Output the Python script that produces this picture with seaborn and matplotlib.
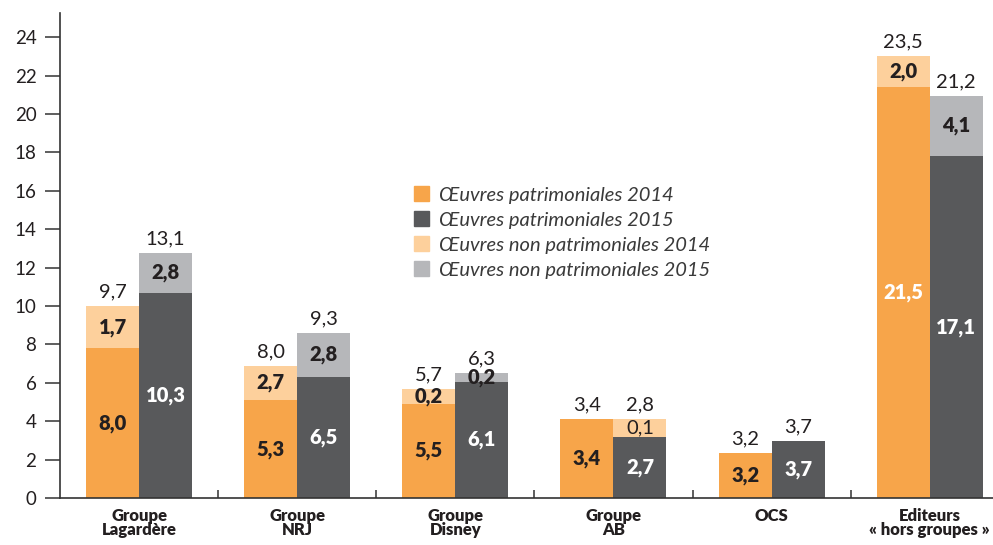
import pandas as pd
import matplotlib.pyplot as plt
import seaborn as sns
from matplotlib.patches import Patch

# Data (bar heights as drawn in the picture, labels as printed)
groups = ["Groupe\nLagardère", "Groupe\nNRJ", "Groupe\nDisney", "Groupe\nAB", "OCS",
          "Editeurs\n« hors groupes »"]
pat_2014 = [7.8, 5.1, 4.9, 4.1, 2.35, 21.4]
total_2014 = [10.0, 6.9, 5.7, 4.1, 2.35, 23.0]
pat_2015 = [10.7, 6.3, 6.05, 3.2, 2.95, 17.8]
total_2015 = [12.75, 8.6, 6.5, 4.1, 2.95, 20.95]

lab_pat_2014 = ["8,0", "5,3", "5,5", "3,4", "3,2", "21,5"]
lab_non_2014 = ["1,7", "2,7", "0,2", "", "", "2,0"]
lab_tot_2014 = ["9,7", "8,0", "5,7", "3,4", "3,2", "23,5"]
lab_pat_2015 = ["10,3", "6,5", "6,1", "2,7", "3,7", "17,1"]
lab_non_2015 = ["2,8", "2,8", "0,2", "0,1", "", "4,1"]
lab_tot_2015 = ["13,1", "9,3", "6,3", "2,8", "3,7", "21,2"]

legend_labels = ["Œuvres patrimoniales 2014", "Œuvres patrimoniales 2015",
                 "Œuvres non patrimoniales 2014", "Œuvres non patrimoniales 2015"]

ORANGE = "#F7A54A"
DARK = "#58595B"
LIGHT_ORANGE = "#FDD09C"
LIGHT_GRAY = "#B6B7BA"
TEXT = "#231F20"

sns.set_style("white")
plt.rcParams["font.family"] = ["Lato", "DejaVu Sans"]

df = pd.DataFrame({
    "group": groups * 2,
    "year": ["2014"] * 6 + ["2015"] * 6,
    "pat": pat_2014 + pat_2015,
    "total": total_2014 + total_2015,
})

fig = plt.figure(figsize=(9.93, 5.45), dpi=100)
ax = fig.add_axes([60 / 993, 47 / 545, 933 / 993, 485 / 545])

# totals (light colours) first, then patrimoniales on top
sns.barplot(data=df, x="group", y="total", hue="year", palette=[LIGHT_ORANGE, LIGHT_GRAY],
            width=0.67, saturation=1, linewidth=0, legend=False, ax=ax)
sns.barplot(data=df, x="group", y="pat", hue="year", palette=[ORANGE, DARK],
            width=0.67, saturation=1, linewidth=0, legend=False, ax=ax)

# AB 2015 non patrimonial slice is drawn in light orange in the original
ax.containers[1][3].set_facecolor(LIGHT_ORANGE)

# labels
bar_w = 0.335
for i in range(len(groups)):
    for off, pat, tot, lp, ln, lt, pc in [
        (-bar_w / 2, pat_2014[i], total_2014[i], lab_pat_2014[i], lab_non_2014[i], lab_tot_2014[i],
         "white" if i == 5 else TEXT),
        (bar_w / 2, pat_2015[i], total_2015[i], lab_pat_2015[i], lab_non_2015[i], lab_tot_2015[i], "white"),
    ]:
        x = i + off
        ax.text(x, pat / 2, lp, ha="center", va="center", fontsize=14.5, fontweight="heavy", color=pc)
        if ln:
            ax.text(x, (pat + tot) / 2, ln, ha="center", va="center", fontsize=14.5,
                    fontweight="normal" if ln == "0,1" else "heavy", color=TEXT)
        ax.annotate(lt, (x, tot), xytext=(0, 4), textcoords="offset points",
                    ha="center", va="bottom", fontsize=14.5, color=TEXT)

ax.set_xlim(-0.5, 5.4)
ax.set_ylim(0, 25.26)
ax.set_yticks(range(0, 25, 2))
ax.set_xlabel("")
ax.set_ylabel("")
sns.despine(ax=ax)
for s in ["left", "bottom"]:
    ax.spines[s].set_color("#333333")
    ax.spines[s].set_linewidth(1.2)

ax.tick_params(axis="y", direction="out", length=11, width=1.1, color="#333333",
               pad=6, labelsize=13.5, labelcolor=TEXT, left=True)
ax.tick_params(axis="x", which="major", length=0, pad=7)
ax.set_xticks([i + 0.5 for i in range(5)], minor=True)
ax.tick_params(axis="x", which="minor", direction="in", length=6, width=1.1, color="#333333", bottom=True)
for lab in ax.get_xticklabels():
    lab.set_fontweight("heavy")
    lab.set_fontsize(12)
    lab.set_color(TEXT)
    lab.set_linespacing(0.85)

handles = [Patch(color=c) for c in [ORANGE, DARK, LIGHT_ORANGE, LIGHT_GRAY]]
ax.legend(handles, legend_labels, loc="upper left", bbox_to_anchor=(0.36, 0.68),
          frameon=False, handlelength=0.75, handleheight=0.75, handletextpad=0.5,
          labelspacing=0.38, prop={"style": "italic", "size": 14.5}, labelcolor="#3a3a3a")

fig.savefig("out.png", dpi=100)
